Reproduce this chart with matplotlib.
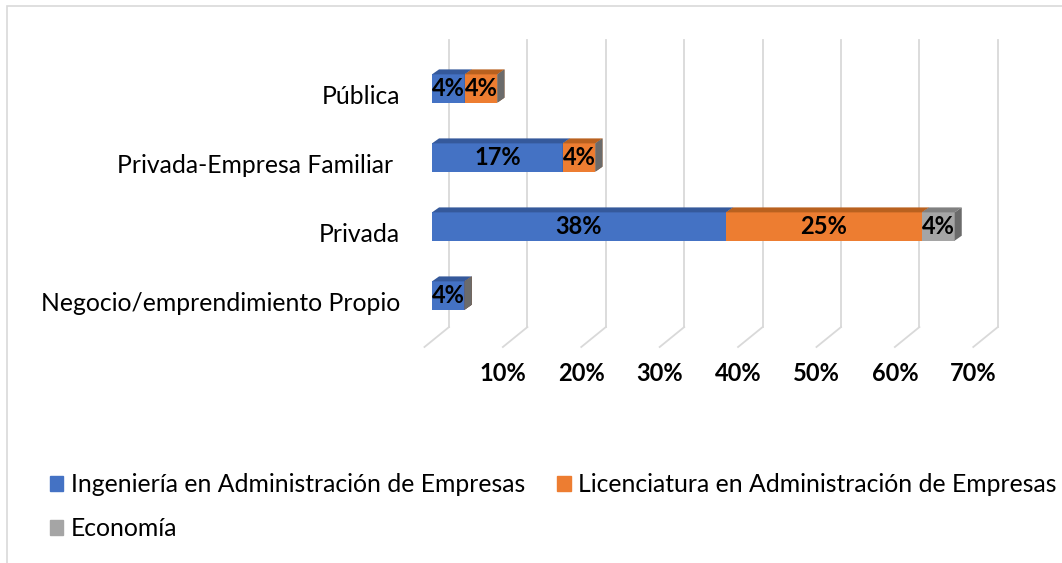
import numpy as np
import matplotlib.pyplot as plt
from matplotlib.patches import Polygon, Patch, Rectangle

plt.rcParams['font.family'] = ['Lato', 'DejaVu Sans']

categories = ['Pública', 'Privada-Empresa Familiar ', 'Privada', 'Negocio/emprendimiento Propio']
series_names = ['Ingeniería en Administración de Empresas',
                'Licenciatura en Administración de Empresas',
                'Economía']
ingenieria = [4.17, 16.67, 37.5, 4.17]
licenciatura = [4.17, 4.17, 25.0, 0.0]
economia = [0.0, 0.0, 4.17, 0.0]
x_ticks = [10, 20, 30, 40, 50, 60, 70]

front_colors = ['#4472C4', '#ED7D31', '#A5A5A5']
top_colors = ['#35599B', '#B9611F', '#808080']
side_colors = ['#2E4D86', '#9E521A', '#6B6B6B']

# fake 3d geometry (data units: % along x, category index along y)
bar_h = 0.41
bar_dx, bar_dy = 0.9, -0.072
wall_back, wall_front = 2.17, -0.96
wall_top, floor_back, floor_front = -0.703, 3.457, 3.746
grid_col = '#D9D9D9'

fig = plt.figure(figsize=(10.62, 5.63), dpi=100)
ax = fig.add_axes([432 / 1062, 1 - 345 / 563, 548.8 / 1062, 305 / 563])
ax.set_xlim(0, 70)
ax.set_ylim(3.717, -0.703)
ax.axis('off')

# back wall and floor grid
for k in [0] + x_ticks:
    ax.plot([k + wall_back, k + wall_back], [wall_top, floor_back], color=grid_col, lw=1.3, zorder=1, clip_on=False)
    ax.plot([k + wall_back, k + wall_front], [floor_back, floor_front], color=grid_col, lw=1.3, zorder=1, clip_on=False)

ypos = np.arange(len(categories))
lefts = np.zeros(len(categories))
for s, vals in enumerate([ingenieria, licenciatura, economia]):
    vals = np.array(vals)
    z = 3 + s
    ax.barh(ypos, vals, left=lefts, height=bar_h, color=front_colors[s], zorder=z)
    for i in range(len(categories)):
        l, w, yc = lefts[i], vals[i], ypos[i]
        yt, yb = yc - bar_h / 2, yc + bar_h / 2
        top = [(l, yt), (l + w, yt), (l + w + bar_dx, yt + bar_dy), (l + bar_dx, yt + bar_dy)]
        side = [(l + w, yt), (l + w, yb), (l + w + bar_dx, yb + bar_dy), (l + w + bar_dx, yt + bar_dy)]
        ax.add_patch(Polygon(top, closed=True, fc=top_colors[s], ec='none', zorder=z, clip_on=False))
        ax.add_patch(Polygon(side, closed=True, fc=side_colors[s], ec='none', zorder=z, clip_on=False))
        if w > 0:
            ax.text(l + w / 2, yc, f'{w:.0f}%', ha='center', va='center', fontsize=17,
                    fontweight='bold', color='black', zorder=10)
    lefts = lefts + vals

# category labels
for i, cat in enumerate(categories):
    ax.text(-4.1, i + 0.116, cat, ha='right', va='center', fontsize=17.8, color='black', clip_on=False)

# value axis labels along the front of the floor
for k in x_ticks:
    ax.text(k + wall_front, 4.123, f'{k}%', ha='center', va='center', fontsize=17,
            fontweight='bold', color='black', clip_on=False)

# chart area border
fig.add_artist(Rectangle((7 / 1062, -0.5), 2, 1.5 - 6 / 563, transform=fig.transFigure,
                         fill=False, ec='#D9D9D9', lw=1.2))

# legend fills column-wise, so reorder to get row-wise layout
handles = [Patch(color=c) for c in front_colors]
order = [0, 2, 1]
fig.legend([handles[i] for i in order], [series_names[i] for i in order],
           loc='upper left', bbox_to_anchor=(40 / 1062, 1 - 463 / 563),
           ncol=2, frameon=False, fontsize=17.8, handlelength=0.55, handleheight=0.55,
           handletextpad=0.3, columnspacing=1.3, labelspacing=0.86, borderaxespad=0)

fig.savefig('out.png', dpi=100)
